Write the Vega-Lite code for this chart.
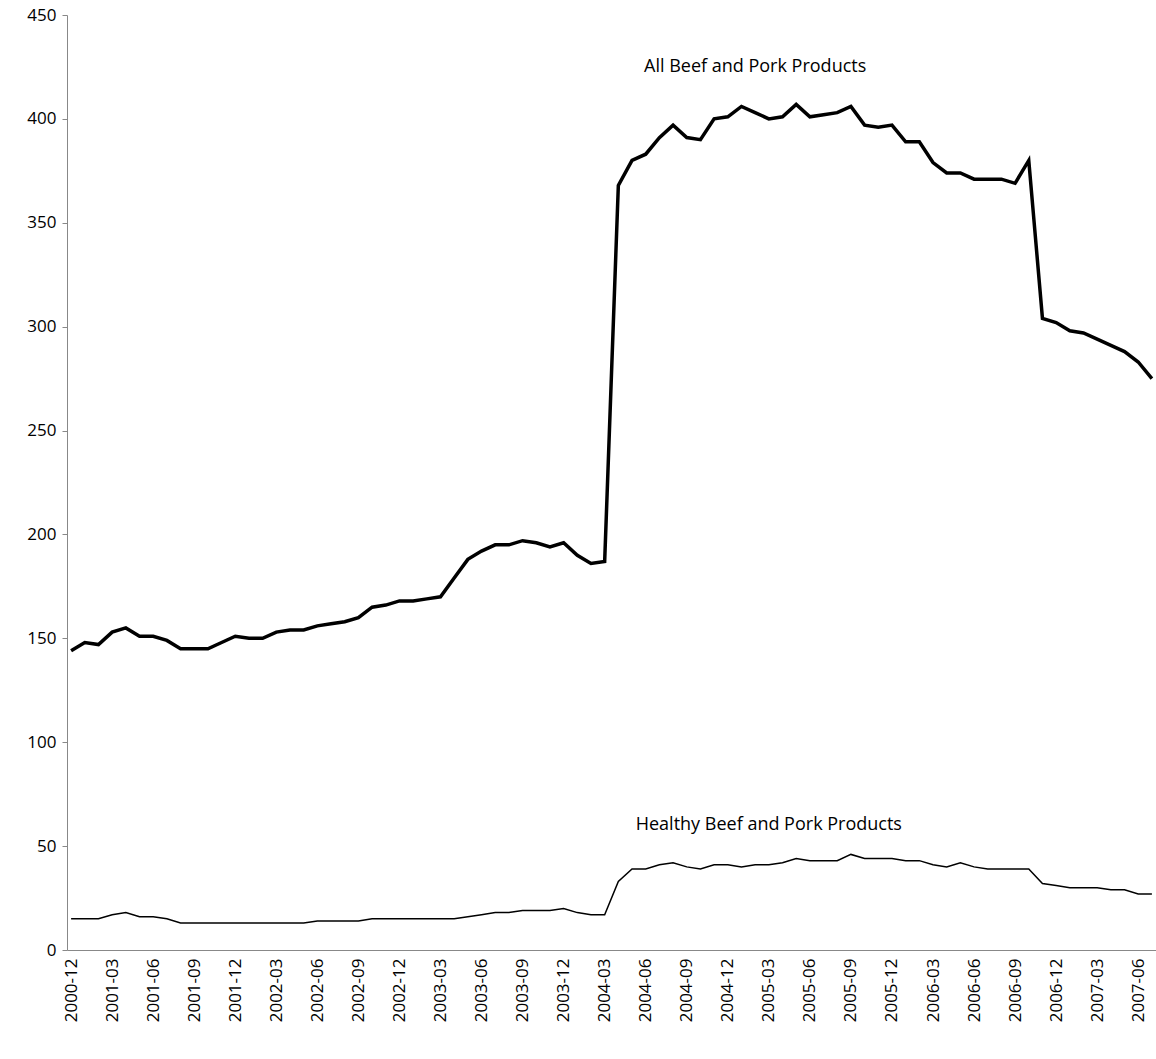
{
  "$schema": "https://vega.github.io/schema/vega-lite/v6.json",
  "width": 1089,
  "height": 935,
  "autosize": {"type": "none"},
  "padding": {"left": 67, "top": 15, "right": 0, "bottom": 109},
  "config": {"view": {"stroke": null}, "font": "Open Sans"},
  "data": {"values": [
    {"i":0,"all":144,"healthy":15},{"i":1,"all":148,"healthy":15},{"i":2,"all":147,"healthy":15},{"i":3,"all":153,"healthy":17},
    {"i":4,"all":155,"healthy":18},{"i":5,"all":151,"healthy":16},{"i":6,"all":151,"healthy":16},{"i":7,"all":149,"healthy":15},
    {"i":8,"all":145,"healthy":13},{"i":9,"all":145,"healthy":13},{"i":10,"all":145,"healthy":13},{"i":11,"all":148,"healthy":13},
    {"i":12,"all":151,"healthy":13},{"i":13,"all":150,"healthy":13},{"i":14,"all":150,"healthy":13},{"i":15,"all":153,"healthy":13},
    {"i":16,"all":154,"healthy":13},{"i":17,"all":154,"healthy":13},{"i":18,"all":156,"healthy":14},{"i":19,"all":157,"healthy":14},
    {"i":20,"all":158,"healthy":14},{"i":21,"all":160,"healthy":14},{"i":22,"all":165,"healthy":15},{"i":23,"all":166,"healthy":15},
    {"i":24,"all":168,"healthy":15},{"i":25,"all":168,"healthy":15},{"i":26,"all":169,"healthy":15},{"i":27,"all":170,"healthy":15},
    {"i":28,"all":179,"healthy":15},{"i":29,"all":188,"healthy":16},{"i":30,"all":192,"healthy":17},{"i":31,"all":195,"healthy":18},
    {"i":32,"all":195,"healthy":18},{"i":33,"all":197,"healthy":19},{"i":34,"all":196,"healthy":19},{"i":35,"all":194,"healthy":19},
    {"i":36,"all":196,"healthy":20},{"i":37,"all":190,"healthy":18},{"i":38,"all":186,"healthy":17},{"i":39,"all":187,"healthy":17},
    {"i":40,"all":368,"healthy":33},{"i":41,"all":380,"healthy":39},{"i":42,"all":383,"healthy":39},{"i":43,"all":391,"healthy":41},
    {"i":44,"all":397,"healthy":42},{"i":45,"all":391,"healthy":40},{"i":46,"all":390,"healthy":39},{"i":47,"all":400,"healthy":41},
    {"i":48,"all":401,"healthy":41},{"i":49,"all":406,"healthy":40},{"i":50,"all":403,"healthy":41},{"i":51,"all":400,"healthy":41},
    {"i":52,"all":401,"healthy":42},{"i":53,"all":407,"healthy":44},{"i":54,"all":401,"healthy":43},{"i":55,"all":402,"healthy":43},
    {"i":56,"all":403,"healthy":43},{"i":57,"all":406,"healthy":46},{"i":58,"all":397,"healthy":44},{"i":59,"all":396,"healthy":44},
    {"i":60,"all":397,"healthy":44},{"i":61,"all":389,"healthy":43},{"i":62,"all":389,"healthy":43},{"i":63,"all":379,"healthy":41},
    {"i":64,"all":374,"healthy":40},{"i":65,"all":374,"healthy":42},{"i":66,"all":371,"healthy":40},{"i":67,"all":371,"healthy":39},
    {"i":68,"all":371,"healthy":39},{"i":69,"all":369,"healthy":39},{"i":70,"all":380,"healthy":39},{"i":71,"all":304,"healthy":32},
    {"i":72,"all":302,"healthy":31},{"i":73,"all":298,"healthy":30},{"i":74,"all":297,"healthy":30},{"i":75,"all":294,"healthy":30},
    {"i":76,"all":291,"healthy":29},{"i":77,"all":288,"healthy":29},{"i":78,"all":283,"healthy":27},{"i":79,"all":275,"healthy":27}
  ]},
  "transform": [
    {"calculate": "timeFormat(datetime(2000, 11 + datum.i, 1), '%Y-%m')", "as": "month"}
  ],
  "encoding": {
    "x": {
      "field": "month", "type": "ordinal", "title": null,
      "scale": {"type": "point", "padding": 0.3},
      "axis": {
        "labelExpr": "(indexof(['03','06','09','12'], slice(datum.value, 5)) >= 0) ? datum.value : ''",
        "labelAngle": -90, "labelAlign": "right", "labelBaseline": "middle",
        "labelFontSize": 17, "labelColor": "black",
        "ticks": false, "domainColor": "#888", "labelPadding": 8, "labelOverlap": false
      }
    }
  },
  "layer": [
    {
      "mark": {"type": "line", "color": "black", "strokeWidth": 3.5},
      "encoding": {
        "y": {
          "field": "all", "type": "quantitative", "title": null,
          "scale": {"domain": [0, 450]},
          "axis": {"values": [0,50,100,150,200,250,300,350,400,450], "grid": false, "labelFontSize": 17, "labelColor": "black", "domainColor": "#888", "tickColor": "#888", "labelPadding": 6}
        }
      }
    },
    {
      "mark": {"type": "line", "color": "black", "strokeWidth": 1.5},
      "encoding": {"y": {"field": "healthy", "type": "quantitative"}}
    },
    {
      "data": {"values": [
        {"month": "2005-02", "v": 425, "label": "All Beef and Pork Products"},
        {"month": "2005-03", "v": 60, "label": "Healthy Beef and Pork Products"}
      ]},
      "transform": [],
      "mark": {"type": "text", "fontSize": 18, "color": "black"},
      "encoding": {
        "y": {"field": "v", "type": "quantitative"},
        "text": {"field": "label"}
      }
    }
  ]
}
